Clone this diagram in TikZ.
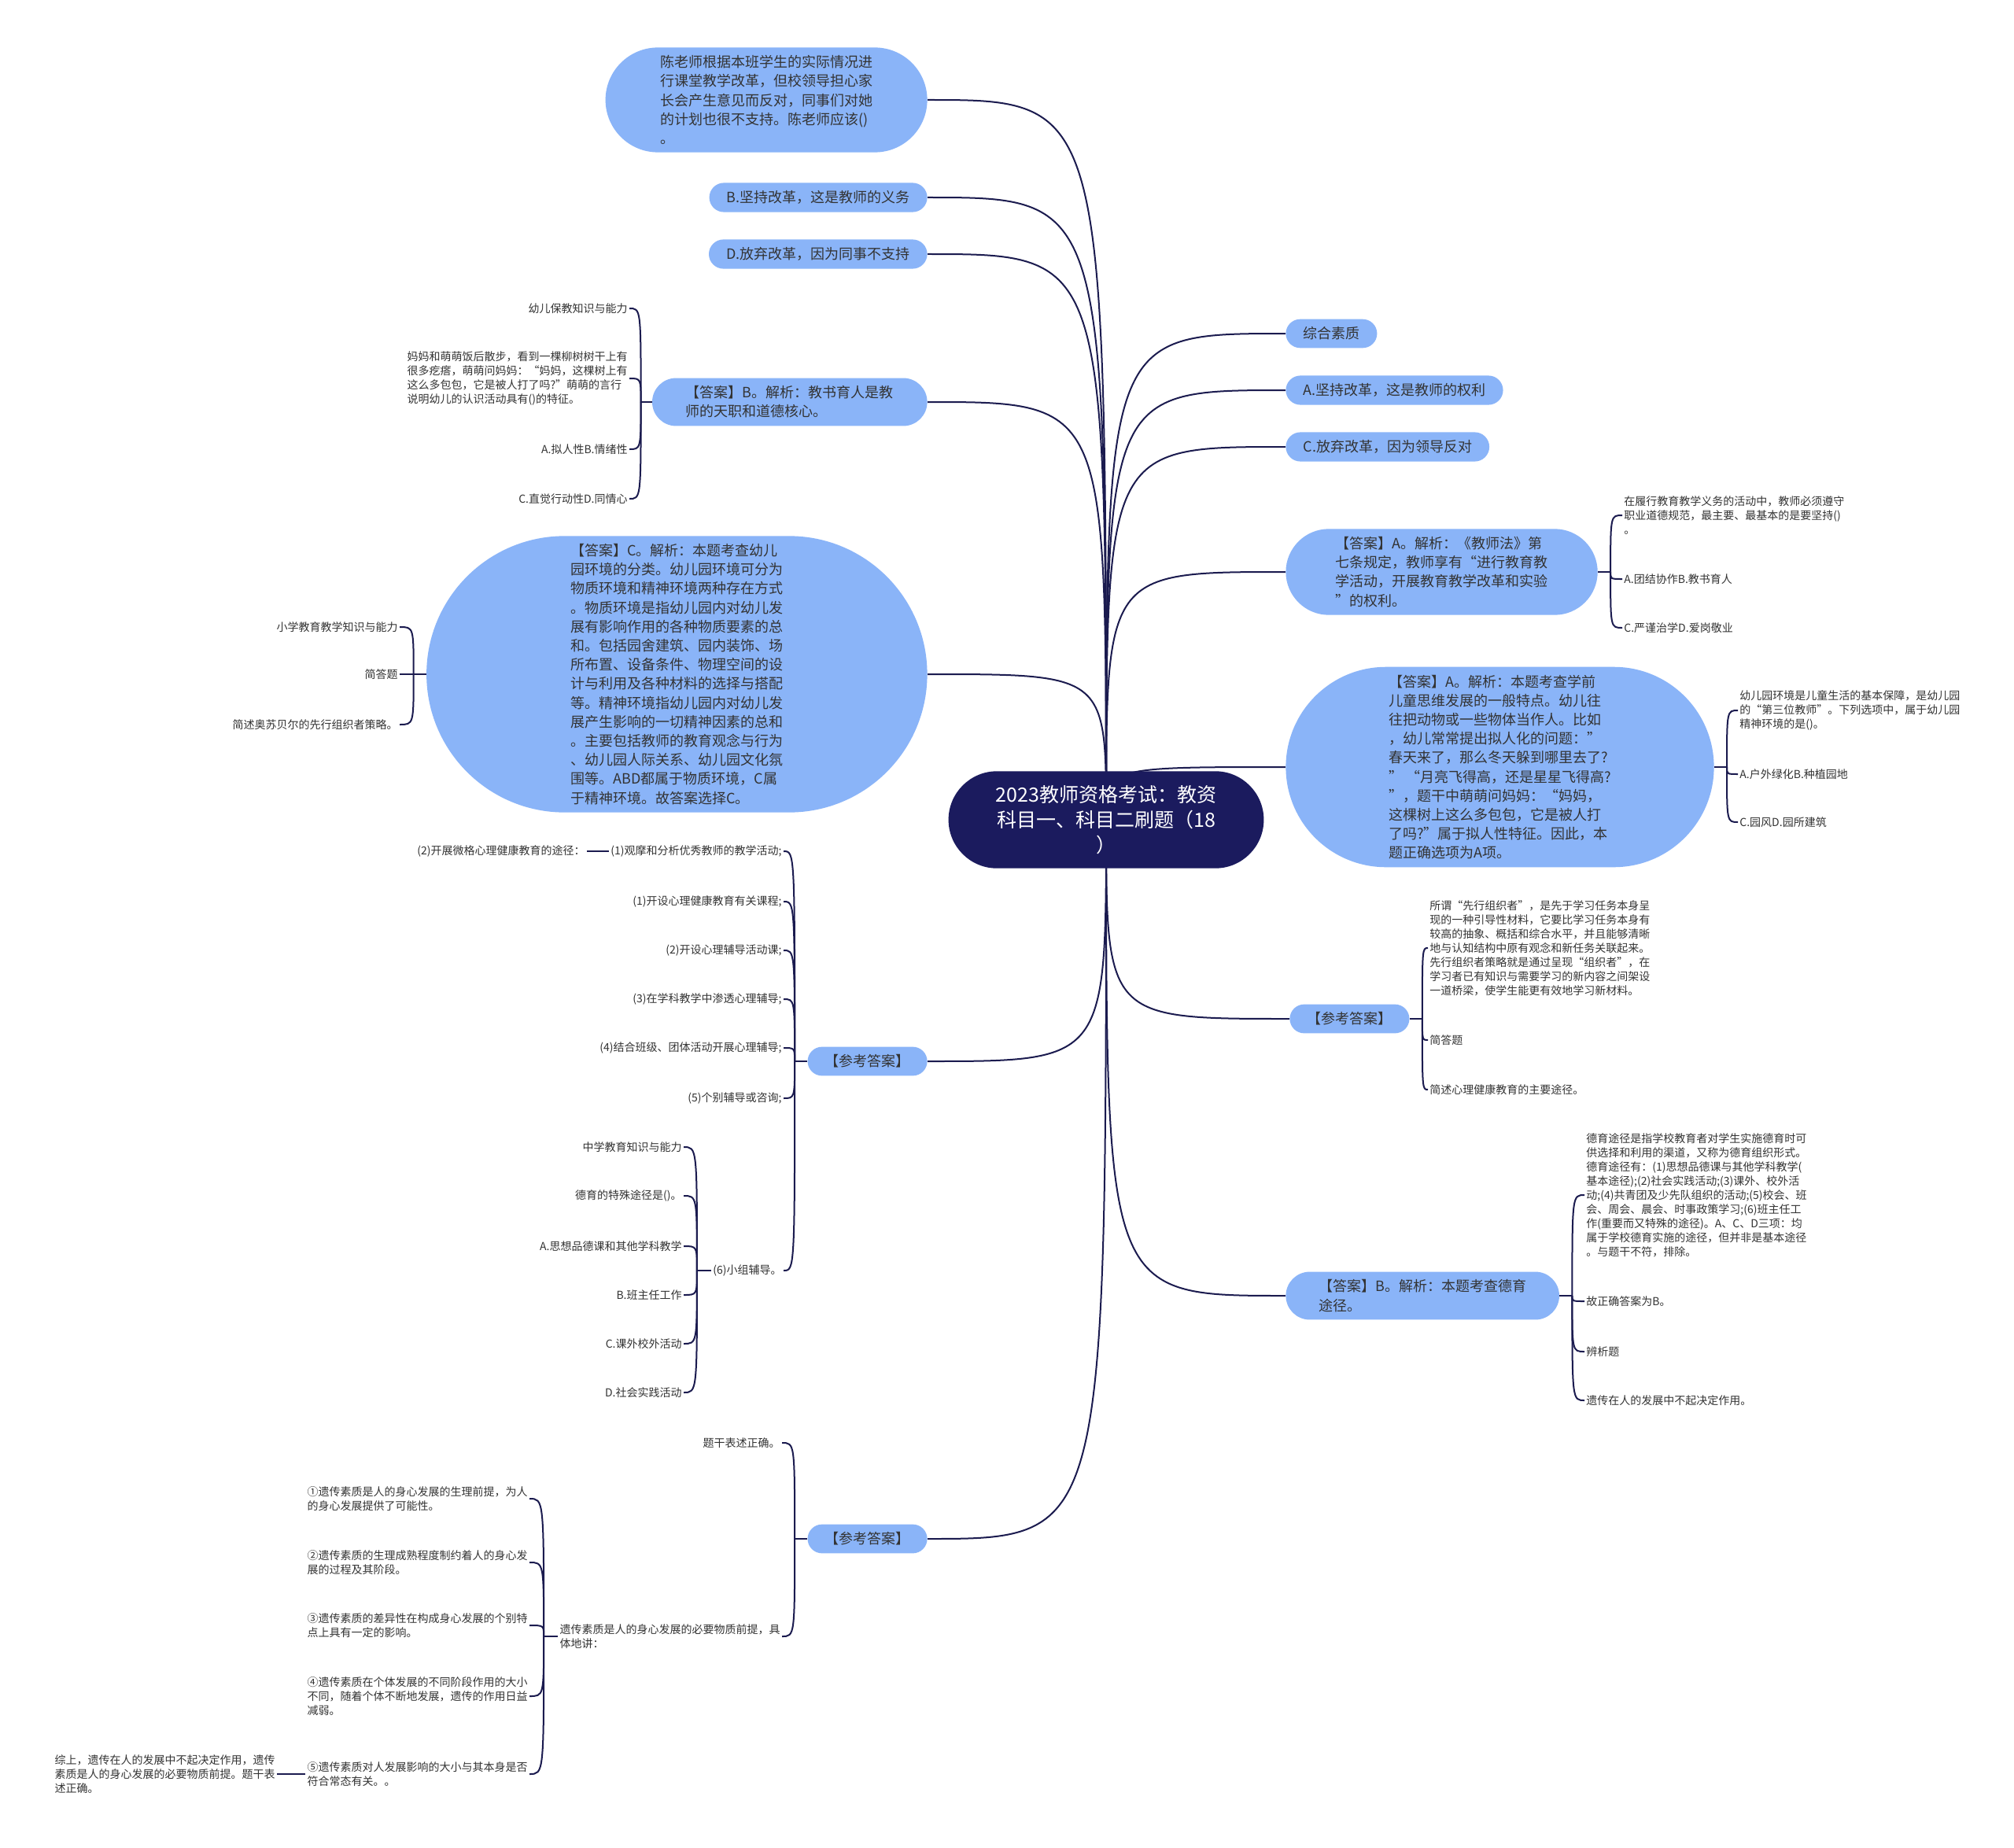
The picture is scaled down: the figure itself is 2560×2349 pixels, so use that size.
\documentclass[tikz,border=0pt]{standalone}
\usepackage{fontspec}
\setmainfont{Noto Sans CJK SC}
\usetikzlibrary{shapes.misc}

\definecolor{rootnavy}{HTML}{1B1B5E}
\definecolor{topicblue}{HTML}{8AB4F8}
\definecolor{linknavy}{HTML}{1B1B4F}
\definecolor{textgray}{HTML}{333333}

\pgfdeclarelayer{paper}
\pgfdeclarelayer{edges}
\pgfsetlayers{paper,edges,main}

\tikzset{
  rootnode/.style={rounded rectangle, fill=rootnavy, text=white, font=\fontsize{12.5}{16}\selectfont, align=center, inner xsep=21pt, inner ysep=9pt},
  topic/.style={rounded rectangle, fill=topicblue, text=textgray, font=\fontsize{9}{12.1}\selectfont, align=left, inner xsep=10pt, inner ysep=5pt},
  leaf/.style={text=textgray, font=\fontsize{7}{9}\selectfont, align=left, inner sep=1pt},
  link/.style={draw=linknavy, line width=1pt},
}

\begin{document}
\begin{tikzpicture}[x=0.5pt, y=-0.5pt]
	\useasboundingbox (0,0) rectangle (2560,2349);
	\begin{pgfonlayer}{paper}
		\fill[white] (0,0) rectangle (2560,2349);
	\end{pgfonlayer}
	
	% Nodo centrale
	\node[rootnode] (root) at (1406,1042) {2023教师资格考试：教资\\科目一、科目二刷题（18\\）};
	
	% Rami a sinistra
	\node[topic, anchor=east, inner xsep=19pt] (q1) at (1179,127) {陈老师根据本班学生的实际情况进\\行课堂教学改革，但校领导担心家\\长会产生意见而反对，同事们对她\\的计划也很不支持。陈老师应该()\\。};
	\node[topic, anchor=east] (optB) at (1179,251) {B.坚持改革，这是教师的义务};
	\node[topic, anchor=east] (optD) at (1179,323) {D.放弃改革，因为同事不支持};
	\node[topic, anchor=east, inner xsep=17.5pt] (ansB) at (1179,511) {【答案】B。解析：教书育人是教\\师的天职和道德核心。};
	\node[topic, anchor=east, inner xsep=33pt] (ansC) at (1179,857) {【答案】C。解析：本题考查幼儿\\园环境的分类。幼儿园环境可分为\\物质环境和精神环境两种存在方式\\。物质环境是指幼儿园内对幼儿发\\展有影响作用的各种物质要素的总\\和。包括园舍建筑、园内装饰、场\\所布置、设备条件、物理空间的设\\计与利用及各种材料的选择与搭配\\等。精神环境指幼儿园内对幼儿发\\展产生影响的一切精神因素的总和\\。主要包括教师的教育观念与行为\\、幼儿园人际关系、幼儿园文化氛\\围等。ABD都属于物质环境，C属\\于精神环境。故答案选择C。};
	\node[topic, anchor=east] (ref1) at (1179,1349) {【参考答案】};
	\node[topic, anchor=east] (ref2) at (1179,1956) {【参考答案】};
	
	% Rami a destra
	\node[topic, anchor=west] (zh) at (1634,424) {综合素质};
	\node[topic, anchor=west] (optA) at (1634,496) {A.坚持改革，这是教师的权利};
	\node[topic, anchor=west] (optC) at (1634,568) {C.放弃改革，因为领导反对};
	\node[topic, anchor=west, inner xsep=20pt] (ansA1) at (1634,727) {【答案】A。解析：《教师法》第\\七条规定，教师享有“进行教育教\\学活动，开展教育教学改革和实验\\”的权利。};
	\node[topic, anchor=west, inner xsep=26.5pt] (ansA2) at (1634,975) {【答案】A。解析：本题考查学前\\儿童思维发展的一般特点。幼儿往\\往把动物或一些物体当作人。比如\\，幼儿常常提出拟人化的问题：”\\春天来了，那么冬天躲到哪里去了?\\” “月亮飞得高，还是星星飞得高?\\”，题干中萌萌问妈妈：“妈妈，\\这棵树上这么多包包，它是被人打\\了吗?”属于拟人性特征。因此，本\\题正确选项为A项。};
	\node[topic, anchor=west] (ref3) at (1639,1295) {【参考答案】};
	\node[topic, anchor=west, inner xsep=17pt] (ansB2) at (1634,1647) {【答案】B。解析：本题考查德育\\途径。};
	
	% Foglie di ansB
	\node[leaf, anchor=east] (b1) at (800,392) {幼儿保教知识与能力};
	\node[leaf, anchor=east] (b2) at (800,481) {妈妈和萌萌饭后散步，看到一棵柳树树干上有\\很多疙瘩，萌萌问妈妈：“妈妈，这棵树上有\\这么多包包，它是被人打了吗?”萌萌的言行\\说明幼儿的认识活动具有()的特征。};
	\node[leaf, anchor=east] (b3) at (800,571) {A.拟人性B.情绪性};
	\node[leaf, anchor=east] (b4) at (800,634) {C.直觉行动性D.同情心};
	
	% Foglie di ansC
	\node[leaf, anchor=east] (c1) at (508,797) {小学教育教学知识与能力};
	\node[leaf, anchor=east] (c2) at (508,857) {简答题};
	\node[leaf, anchor=east] (c3) at (508,921) {简述奥苏贝尔的先行组织者策略。};
	
	% Foglie di ref1
	\node[leaf, anchor=east] (r1) at (996,1082) {(1)观摩和分析优秀教师的教学活动;};
	\node[leaf, anchor=east] (r1x) at (746,1082) {(2)开展微格心理健康教育的途径：};
	\node[leaf, anchor=east] (r2) at (996,1146) {(1)开设心理健康教育有关课程;};
	\node[leaf, anchor=east] (r3) at (996,1208) {(2)开设心理辅导活动课;};
	\node[leaf, anchor=east] (r4) at (996,1270) {(3)在学科教学中渗透心理辅导;};
	\node[leaf, anchor=east] (r5) at (996,1332) {(4)结合班级、团体活动开展心理辅导;};
	\node[leaf, anchor=east] (r6) at (996,1396) {(5)个别辅导或咨询;};
	\node[leaf, anchor=east] (r7) at (996,1615) {(6)小组辅导。};
	\node[leaf, anchor=east] (s1) at (869,1458) {中学教育知识与能力};
	\node[leaf, anchor=east] (s2) at (869,1520) {德育的特殊途径是()。};
	\node[leaf, anchor=east] (s3) at (869,1584) {A.思想品德课和其他学科教学};
	\node[leaf, anchor=east] (s4) at (869,1646) {B.班主任工作};
	\node[leaf, anchor=east] (s5) at (869,1708) {C.课外校外活动};
	\node[leaf, anchor=east] (s6) at (869,1770) {D.社会实践活动};
	
	% Foglie di ref2
	\node[leaf, anchor=east] (t1) at (994,1834) {题干表述正确。};
	\node[leaf, anchor=east] (t2) at (994,2080) {遗传素质是人的身心发展的必要物质前提，具\\体地讲：};
	\node[leaf, anchor=east] (g1) at (673,1905) {①遗传素质是人的身心发展的生理前提，为人\\的身心发展提供了可能性。};
	\node[leaf, anchor=east] (g2) at (673,1986) {②遗传素质的生理成熟程度制约着人的身心发\\展的过程及其阶段。};
	\node[leaf, anchor=east] (g3) at (673,2066) {③遗传素质的差异性在构成身心发展的个别特\\点上具有一定的影响。};
	\node[leaf, anchor=east] (g4) at (673,2156) {④遗传素质在个体发展的不同阶段作用的大小\\不同，随着个体不断地发展，遗传的作用日益\\减弱。};
	\node[leaf, anchor=east] (g5) at (673,2255) {⑤遗传素质对人发展影响的大小与其本身是否\\符合常态有关。。};
	\node[leaf, anchor=east] (gz) at (352,2255) {综上，遗传在人的发展中不起决定作用，遗传\\素质是人的身心发展的必要物质前提。题干表\\述正确。};
	
	% Foglie a destra
	\node[leaf, anchor=west] (a1) at (2062,655) {在履行教育教学义务的活动中，教师必须遵守\\职业道德规范，最主要、最基本的是要坚持()\\。};
	\node[leaf, anchor=west] (a2) at (2062,736) {A.团结协作B.教书育人};
	\node[leaf, anchor=west] (a3) at (2062,798) {C.严谨治学D.爱岗敬业};
	\node[leaf, anchor=west] (e1) at (2209,903) {幼儿园环境是儿童生活的基本保障，是幼儿园\\的“第三位教师”。下列选项中，属于幼儿园\\精神环境的是()。};
	\node[leaf, anchor=west] (e2) at (2209,984) {A.户外绿化B.种植园地};
	\node[leaf, anchor=west] (e3) at (2209,1045) {C.园风D.园所建筑};
	\node[leaf, anchor=west] (p1) at (1815,1205) {所谓“先行组织者”，是先于学习任务本身呈\\现的一种引导性材料，它要比学习任务本身有\\较高的抽象、概括和综合水平，并且能够清晰\\地与认知结构中原有观念和新任务关联起来。\\先行组织者策略就是通过呈现“组织者”，在\\学习者已有知识与需要学习的新内容之间架设\\一道桥梁，使学生能更有效地学习新材料。};
	\node[leaf, anchor=west] (p2) at (1815,1322) {简答题};
	\node[leaf, anchor=west] (p3) at (1815,1385) {简述心理健康教育的主要途径。};
	\node[leaf, anchor=west] (d1) at (2014,1519) {德育途径是指学校教育者对学生实施德育时可\\供选择和利用的渠道，又称为德育组织形式。\\德育途径有：(1)思想品德课与其他学科教学(\\基本途径);(2)社会实践活动;(3)课外、校外活\\动;(4)共青团及少先队组织的活动;(5)校会、班\\会、周会、晨会、时事政策学习;(6)班主任工\\作(重要而又特殊的途径)。A、C、D三项：均\\属于学校德育实施的途径，但并非是基本途径\\。与题干不符，排除。};
	\node[leaf, anchor=west] (d2) at (2014,1654) {故正确答案为B。};
	\node[leaf, anchor=west] (d3) at (2014,1718) {辨析题};
	\node[leaf, anchor=west] (d4) at (2014,1780) {遗传在人的发展中不起决定作用。};
	
	% Punti di diramazione
	\coordinate (jB) at ([xshift=-7pt]ansB.west);
	\coordinate (jC) at ([xshift=-8pt]ansC.west);
	\coordinate (j1) at ([xshift=-8pt]ref1.west);
	\coordinate (j7) at ([xshift=-9pt]r7.west);
	\coordinate (j2) at ([xshift=-8pt]ref2.west);
	\coordinate (jT) at ([xshift=-9pt]t2.west);
	\coordinate (jA1) at ([xshift=8pt]ansA1.east);
	\coordinate (jA2) at ([xshift=8pt]ansA2.east);
	\coordinate (j3) at ([xshift=8pt]ref3.east);
	\coordinate (jB2) at ([xshift=8pt]ansB2.east);
	
	% Collegamenti
	\begin{pgfonlayer}{edges}
		\foreach \t in {q1,optB,optD,ansB,ansC,ref1,ref2}
			\draw[link] (root.center) .. controls (root.center |- \t.east) .. (\t.east);
		\foreach \t in {zh,optA,optC,ansA1,ansA2,ref3,ansB2}
			\draw[link] (root.center) .. controls (root.center |- \t.west) .. (\t.west);
		
		\draw[link] (ansB.west) -- (jB);
		\foreach \k in {b1,b2,b3,b4}
			\draw[link] (jB) .. controls (jB |- \k.east) .. (\k.east);
		\draw[link] (ansC.west) -- (jC);
		\foreach \k in {c1,c2,c3}
			\draw[link] (jC) .. controls (jC |- \k.east) .. (\k.east);
		\draw[link] (ref1.west) -- (j1);
		\foreach \k in {r1,r2,r3,r4,r5,r6,r7}
			\draw[link] (j1) .. controls (j1 |- \k.east) .. (\k.east);
		\draw[link] (r1.west) -- (r1x.east);
		\draw[link] (r7.west) -- (j7);
		\foreach \k in {s1,s2,s3,s4,s5,s6}
			\draw[link] (j7) .. controls (j7 |- \k.east) .. (\k.east);
		\draw[link] (ref2.west) -- (j2);
		\foreach \k in {t1,t2}
			\draw[link] (j2) .. controls (j2 |- \k.east) .. (\k.east);
		\draw[link] (t2.west) -- (jT);
		\foreach \k in {g1,g2,g3,g4,g5}
			\draw[link] (jT) .. controls (jT |- \k.east) .. (\k.east);
		\draw[link] (g5.west) -- (gz.east);
		
		\draw[link] (ansA1.east) -- (jA1);
		\foreach \k in {a1,a2,a3}
			\draw[link] (jA1) .. controls (jA1 |- \k.west) .. (\k.west);
		\draw[link] (ansA2.east) -- (jA2);
		\foreach \k in {e1,e2,e3}
			\draw[link] (jA2) .. controls (jA2 |- \k.west) .. (\k.west);
		\draw[link] (ref3.east) -- (j3);
		\foreach \k in {p1,p2,p3}
			\draw[link] (j3) .. controls (j3 |- \k.west) .. (\k.west);
		\draw[link] (ansB2.east) -- (jB2);
		\foreach \k in {d1,d2,d3,d4}
			\draw[link] (jB2) .. controls (jB2 |- \k.west) .. (\k.west);
	\end{pgfonlayer}
	
\end{tikzpicture}
\end{document}
